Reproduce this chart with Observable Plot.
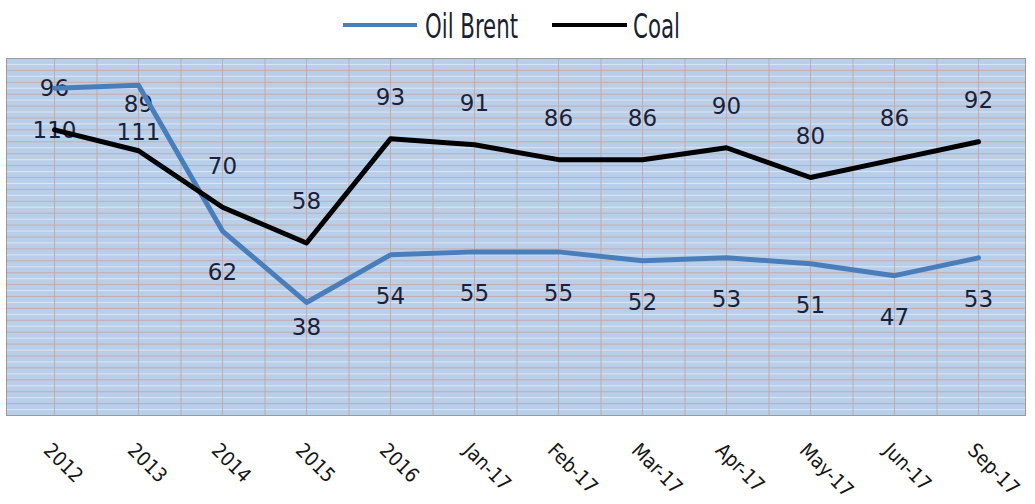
<!DOCTYPE html>
<html>
<head>
<meta charset="utf-8">
<script src="https://cdn.jsdelivr.net/npm/d3@7"></script>
<script src="https://cdn.jsdelivr.net/npm/@observablehq/plot@0.6"></script>
<style>
  body { margin: 0; background: #ffffff; font-family: "DejaVu Sans", sans-serif; }
  #chart svg { display: block; }
</style>
</head>
<body>
<div id="chart"></div>
<script>
// Prices by period: Oil Brent and Coal
const periods = ["2012", "2013", "2014", "2015", "2016", "Jan-17", "Feb-17", "Mar-17", "Apr-17", "May-17", "Jun-17", "Sep-17"];
const oilBrent = [110, 111, 62, 38, 54, 55, 55, 52, 53, 51, 47, 53];
const coal = [96, 89, 70, 58, 93, 91, 86, 86, 90, 80, 86, 92];
const seriesNames = ["Oil Brent", "Coal"];
const seriesColors = ["#4a7ebb", "#000000"];

const rows = periods.flatMap((p, i) => [
  {period: p, series: "Oil Brent", value: oilBrent[i]},
  {period: p, series: "Coal", value: coal[i]}
]);

const W = 1035, H = 454;
const marginLeft = 6, marginRight = 10;
const step = (W - marginLeft - marginRight) / periods.length;

// Legend row above the chart
const legend = d3.create("svg")
  .attr("width", W)
  .attr("height", 50)
  .style("display", "block");
const legendItems = [
  {name: seriesNames[0], color: seriesColors[0], x0: 343, x1: 417, tx: 425, tw: 93},
  {name: seriesNames[1], color: seriesColors[1], x0: 552, x1: 627, tx: 633, tw: 47}
];
for (const it of legendItems) {
  legend.append("line")
    .attr("x1", it.x0).attr("x2", it.x1)
    .attr("y1", 25).attr("y2", 25)
    .attr("stroke", it.color).attr("stroke-width", 4);
  legend.append("text")
    .attr("x", it.tx).attr("y", 38)
    .attr("textLength", it.tw)
    .attr("lengthAdjust", "spacingAndGlyphs")
    .attr("font-family", "'DejaVu Sans Condensed', 'DejaVu Sans', sans-serif")
    .attr("font-size", 34)
    .attr("fill", "#1b1f33")
    .text(it.name);
}

// Value labels: coal above its line, oil below; a few nudged apart where they crowd
const baseOffset = {"Coal": -41, "Oil Brent": 42};
const nudged = {"Coal|2013": -46, "Oil Brent|2013": 47, "Oil Brent|2015": 25};
const labelOffset = d => nudged[`${d.series}|${d.period}`] ?? baseOffset[d.series];
const labelGroups = d3.groups(rows, labelOffset);

const labelMarks = labelGroups.map(([dy, group]) =>
  Plot.text(group, {
    x: "period",
    y: "value",
    text: d => String(d.value),
    dy,
    fontSize: 23,
    fontFamily: "DejaVu Sans, sans-serif",
    fill: "#1b1f3a"
  })
);

const chart = Plot.plot({
  width: W,
  height: H,
  marginLeft,
  marginRight,
  marginTop: 8,
  marginBottom: 89,
  style: {background: "transparent", fontFamily: "DejaVu Sans, sans-serif"},
  x: {type: "point", domain: periods, padding: 0.5, label: null},
  y: {domain: [0, 120], axis: null},
  color: {domain: seriesNames, range: seriesColors},
  marks: [
    Plot.frame({fill: "#b9cfe9"}),
    Plot.gridY(d3.range(2, 120, 4), {stroke: "#e8f0fa", strokeOpacity: 0.7}),
    Plot.gridY(d3.range(4, 120, 4), {stroke: "#c8a6a0", strokeOpacity: 0.85}),
    Plot.ruleX(periods, {stroke: "#c4a4a0", strokeOpacity: 0.85}),
    Plot.ruleX(periods.slice(0, -1), {dx: step / 2, stroke: "#c4a4a0", strokeOpacity: 0.85}),
    Plot.frame({stroke: "#9a9a9a"}),
    Plot.axisX({
      tickSize: 0,
      tickRotate: 45,
      textAnchor: "start",
      lineAnchor: "top",
      tickPadding: 26,
      dx: -2,
      fontSize: 20,
      fontFamily: "'DejaVu Sans Condensed', 'DejaVu Sans', sans-serif",
      fill: "#151515",
      label: null
    }),
    ...labelMarks,
    Plot.line(rows, {
      x: "period",
      y: "value",
      z: "series",
      stroke: "series",
      strokeWidth: 5,
      strokeLinejoin: "round"
    })
  ]
});

const root = document.getElementById("chart");
root.appendChild(legend.node());
root.appendChild(chart);
</script>
</body>
</html>
